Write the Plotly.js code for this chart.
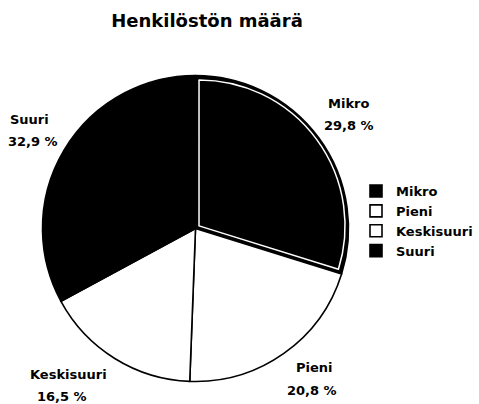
<!DOCTYPE html>
<html>
<head>
<meta charset="utf-8">
<script src="https://cdn.plot.ly/plotly-3.0.1.min.js"></script>
<style>html,body{margin:0;padding:0;background:#fff;}#chart{width:479px;height:404px;}</style>
</head>
<body>
<div id="chart"></div>
<script>
const title = "Henkilöstön määrä";
const categories = ["Mikro", "Pieni", "Keskisuuri", "Suuri"];
const shares = [29.8, 20.8, 16.5, 32.9];
const sliceColors = ["#000000", "#ffffff", "#ffffff", "#000000"];

const W = 479, H = 404;
const FONT = "DejaVu Sans, Arial, sans-serif";
// label centers in pixels (name line, value line)
const labelPos = [
  {x: 348, y1: 103, x2: 349, y2: 125},
  {x: 314, y1: 367, x2: 312, y2: 390},
  {x: 68,  y1: 374, x2: 62,  y2: 396},
  {x: 29,  y1: 119, x2: 33,  y2: 141}
];
const px = v => v / W, py = v => 1 - v / H;

const fmt = v => v.toFixed(1).replace('.', ',') + ' %';

const cx = 195.5, cy = 228.5, R = 153, R2 = 146, pullAmt = 0.03;
const R2dom = R2 * (1 + pullAmt);

const pie = {
  type: 'pie',
  labels: categories,
  values: shares,
  sort: false,
  direction: 'clockwise',
  rotation: 0,
  textinfo: 'none',
  hoverinfo: 'label+percent',
  marker: {colors: sliceColors, line: {color: '#000000', width: 1.6}},
  domain: {x: [px(cx - R), px(cx + R)], y: [py(cy + R), py(cy - R)]},
  showlegend: true
};

const inset = {
  type: 'pie',
  labels: categories,
  values: shares,
  sort: false,
  direction: 'clockwise',
  rotation: 0,
  textinfo: 'none',
  hoverinfo: 'skip',
  pull: [pullAmt, 0, 0, 0],
  marker: {
    colors: ["#000000", "rgba(0,0,0,0)", "rgba(0,0,0,0)", "rgba(0,0,0,0)"],
    line: {color: ["#ffffff", "rgba(0,0,0,0)", "rgba(0,0,0,0)", "rgba(0,0,0,0)"], width: [1.5, 0, 0, 0]}
  },
  domain: {x: [px(cx - R2dom), px(cx + R2dom)], y: [py(cy + R2dom), py(cy - R2dom)]},
  showlegend: false
};

const annotations = [];
categories.forEach((c, i) => {
  const p = labelPos[i];
  annotations.push({text: c, x: px(p.x), y: py(p.y1), xref: 'paper', yref: 'paper',
    xanchor: 'center', yanchor: 'middle', showarrow: false,
    font: {family: FONT, size: 13, color: '#000', weight: 'bold'}});
  annotations.push({text: fmt(shares[i]), x: px(p.x2), y: py(p.y2), xref: 'paper', yref: 'paper',
    xanchor: 'center', yanchor: 'middle', showarrow: false,
    font: {family: FONT, size: 13, color: '#000', weight: 'bold'}});
});

const layout = {
  width: W, height: H,
  margin: {l: 0, r: 0, t: 0, b: 0},
  paper_bgcolor: '#ffffff',
  title: {text: title, x: px(207), xanchor: 'center', y: py(21), yanchor: 'middle',
    font: {family: FONT, size: 18, color: '#000', weight: 'bold'}},
  legend: {
    x: px(356), xanchor: 'left', y: py(176), yanchor: 'top',
    font: {family: FONT, size: 13, color: '#000', weight: 'bold'},
    bgcolor: 'rgba(0,0,0,0)', borderwidth: 0
  },
  annotations: annotations
};

Plotly.newPlot('chart', [pie, inset], layout, {displayModeBar: false, staticPlot: true});
</script>
</body>
</html>
